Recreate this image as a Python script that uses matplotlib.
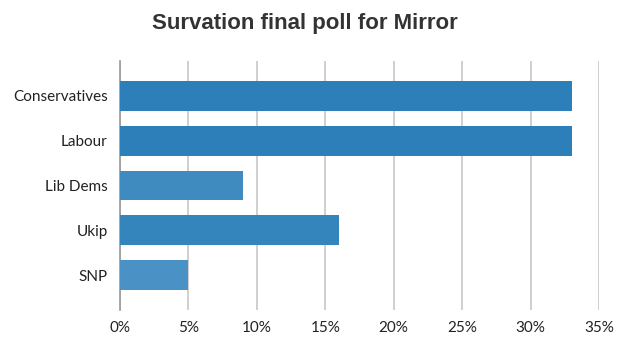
import matplotlib
matplotlib.use("Agg")
import matplotlib.pyplot as plt
from matplotlib.ticker import FuncFormatter

categories = ["Conservatives", "Labour", "Lib Dems", "Ukip", "SNP"]
values = [33, 33, 9, 16, 5]
colors = ["#2c7fb8", "#2c7fb8", "#3f8bc0", "#3385bb", "#4a92c6"]
xticks = [0, 5, 10, 15, 20, 25, 30, 35]
title = "Survation final poll for Mirror"

fig = plt.figure(figsize=(6.25, 3.57), dpi=100)
ax = fig.add_axes([120/625, 1-310/357, (599-120)/625, (310-61)/357])

y = list(range(len(categories)))
ax.barh(y, values, height=0.667, color=colors, edgecolor="none", zorder=3)
ax.set_ylim(len(categories) - 1 + 0.77, -0.77)
ax.set_xlim(0, 35)
ax.set_xticks(xticks)
ax.xaxis.set_major_formatter(FuncFormatter(lambda v, p: f"{int(v)}%"))
ax.set_yticks(y)
ax.set_yticklabels(categories)
ax.grid(axis="x", color="#cccccc", linewidth=1.3, zorder=0)
ax.grid(axis="y", visible=False)
for s in ["top", "right", "bottom"]:
    ax.spines[s].set_visible(False)
ax.spines["left"].set_color("#999999")
ax.spines["left"].set_linewidth(1.2)
ax.tick_params(axis="both", length=0, labelsize=11, colors="#222222")
ax.tick_params(axis="x", pad=8)
ax.tick_params(axis="y", pad=9)
for lab in ax.get_xticklabels() + ax.get_yticklabels():
    lab.set_fontfamily("Lato")

fig.text(305/625, 1-23/357, title, ha="center", va="center",
         fontsize=16, fontweight="bold", color="#333333", family="Liberation Sans")

fig.savefig("out.png", dpi=100)
